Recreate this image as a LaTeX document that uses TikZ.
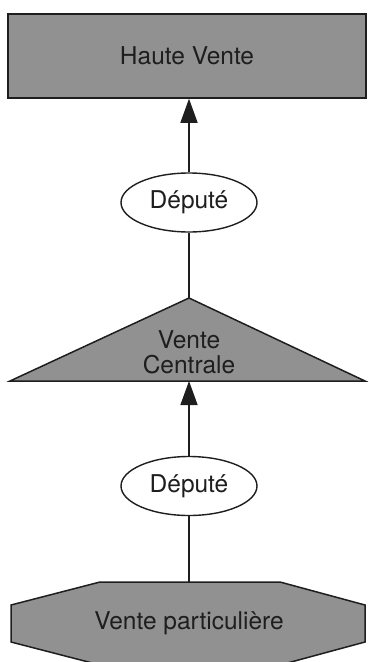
\documentclass[tikz,border=0pt]{standalone}
\usepackage{fontspec}
\setmainfont{TeX Gyre Heros}
\usetikzlibrary{arrows.meta,shapes.geometric}
\definecolor{shadegray}{RGB}{145,145,145}
\definecolor{inkc}{RGB}{30,30,30}
\tikzset{
  lbl/.style={font=\fontsize{24.5}{25}\selectfont, text=inkc, align=center, inner sep=0pt},
  shaded/.style={draw=inkc, line width=1.5pt, fill=shadegray},
  box/.style={shaded, rectangle, minimum width=358pt, minimum height=84pt, lbl},
  ell/.style={draw=inkc, line width=1.4pt, fill=white, ellipse, minimum width=136pt, minimum height=59pt, lbl},
  conn/.style={draw=inkc, line width=1.5pt},
  arr/.style={conn, -{Triangle[length=24pt, width=17pt]}},
}
\begin{document}
\begin{tikzpicture}[x=1pt, y=-1pt]
\useasboundingbox (0,0) rectangle (368,662);
\clip (0,0) rectangle (368,662);
% top box
\node[box] (hv) at (187,56) {Haute Vente};
% first depute
\node[ell] (d1) at (189,202.5) {Député};
% triangle
\coordinate (apex) at (189,298);
\coordinate (tribase) at (189,381);
\draw[shaded] (10,381) -- (apex) -- (365,381) -- cycle;
\node[lbl] (vc) at (189,352) {Vente\\Centrale};
% second depute
\node[ell] (d2) at (189,486) {Député};
% hexagon
\coordinate (hextop) at (189,582);
\draw[shaded] (100,582) -- (280,582) -- (365,605) -- (365,642) -- (280,665) -- (100,665) -- (11,642) -- (11,605) -- cycle;
\node[lbl] (vp) at (189,623) {Vente particulière};
% connectors
\draw[arr] (d1.north) -- (d1.north |- hv.south);
\draw[conn] (d1.south) -- (apex);
\draw[arr] (d2.north) -- (tribase);
\draw[conn] (d2.south) -- (hextop);
\end{tikzpicture}
\end{document}
